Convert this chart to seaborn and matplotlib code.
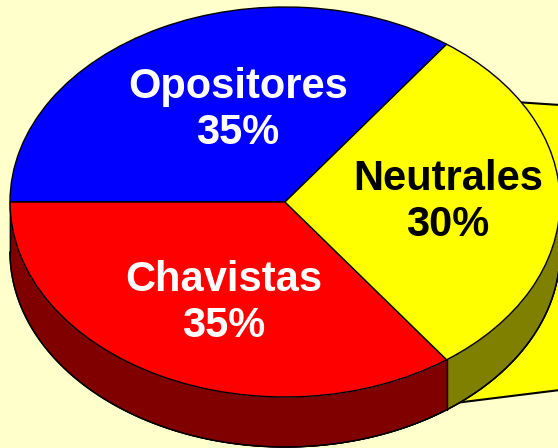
import numpy as np
import seaborn as sns
import matplotlib.pyplot as plt

# datos de la encuesta
grupos = ['Opositores', 'Chavistas', 'Neutrales']
porcentajes = [35, 35, 30]
colores = ['#0000FF', '#FF0000', '#FFFF00']
colores_lado = ['#000080', '#800000', '#808000']
color_texto = ['white', 'white', 'black']

sns.set_style('white')
plt.rcParams['font.family'] = ['Liberation Sans', 'DejaVu Sans']

fondo = '#FFFFCC'
fig = plt.figure(figsize=(5.58, 4.48), dpi=100, facecolor=fondo)
ax = fig.add_axes([0, 0, 1, 1])
ax.set_facecolor(fondo)

# pixel -> datos (centro 285,202; radios 275 x 195)
cx, cy, rx, ry = 285, 202, 275, 195
def px(x, y):
    return (x - cx) / rx, (cy - y) / ry

depth = 50 / ry

# caja amarilla detras del pastel
caja = [px(470, 99), px(560, 105), px(560, 390), px(455, 403)]
ax.add_patch(plt.Polygon(caja, closed=True, facecolor='#FFFF00',
                         edgecolor='black', lw=1.5, zorder=1))

# lado del pastel (solo la parte frontal se ve)
start = 54
bordes = [start]
for p in porcentajes:
    bordes.append(bordes[-1] + p * 3.6)
for i in range(len(grupos)):
    a0, a1 = bordes[i], bordes[i + 1]
    lo, hi = max(a0, 180), min(a1, 360)
    if a0 >= 360:
        lo, hi = max(a0 - 360, 180), min(a1 - 360, 360)
    if hi <= lo:
        # Neutrales cruza 360
        lo, hi = max(a0, 180), 360
    t = np.radians(np.linspace(lo, hi, 200))
    x = np.cos(t)
    y = np.sin(t)
    ax.fill_between(x, y - depth, y, color=colores_lado[i], lw=0, zorder=2)
    ax.plot(x, y - depth, color='black', lw=1, zorder=3)
    ax.plot([x[0], x[0]], [y[0], y[0] - depth], color='black', lw=1, zorder=3)

# cara superior
ax.pie(porcentajes, colors=colores, startangle=start, counterclock=True,
       radius=1, wedgeprops=dict(edgecolor='black', linewidth=1, zorder=4))
for w in ax.patches[1:]:
    w.set_zorder(4)

# etiquetas
pos = [px(238, 110), px(224, 303), px(448, 202)]
for g, p, (x, y), c in zip(grupos, porcentajes, pos, color_texto):
    ax.text(x, y, f'{g}\n{p}%', ha='center', va='center', fontsize=30,
            fontweight='bold', color=c, linespacing=1.2, zorder=5)

ax.set_aspect('auto')
ax.set_xlim((0 - cx) / rx, (558 - cx) / rx)
ax.set_ylim((cy - 448) / ry, cy / ry)
ax.axis('off')

fig.savefig('out.png', dpi=100, facecolor=fondo)
